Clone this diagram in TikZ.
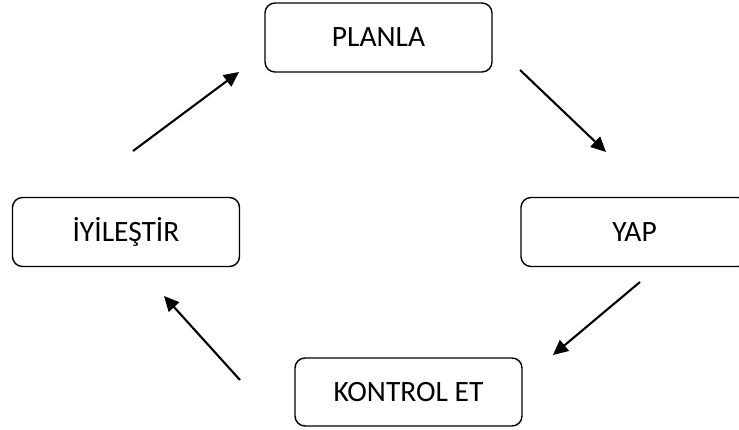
\documentclass[tikz,border=0pt]{standalone}
\usepackage{fontspec}
\setmainfont{Carlito}
\usetikzlibrary{arrows.meta}
\begin{document}
\begin{tikzpicture}[x=1pt,y=-1pt,
  box/.style={draw, rounded corners=10pt, line width=1.4pt, minimum width=227pt, minimum height=69pt, inner sep=0pt, font=\fontsize{29.5}{35}\selectfont},
  flow/.style={line width=2.1pt, -{Triangle[length=15pt,width=14pt]}}]
\clip (0,0) rectangle (739,430);
\useasboundingbox (0,0) rectangle (739,430);
\node[box] (plan) at (378.5,37.5) {PLANLA};
\node[box] (yap) at (634.5,232) {YAP};
\node[box] (iyi) at (126,232) {İYİLEŞTİR};
\node[box, minimum height=68pt] (kon) at (408.5,392) {KONTROL ET};
\coordinate (a1s) at (520,70);
\coordinate (a1e) at (606,152);
\coordinate (a2s) at (640,282);
\coordinate (a2e) at (553,355);
\coordinate (a3s) at (240,380);
\coordinate (a3e) at (164,296);
\coordinate (a4s) at (133,151);
\coordinate (a4e) at (239,72);
\draw[flow] (a1s) -- (a1e);
\draw[flow] (a2s) -- (a2e);
\draw[flow] (a3s) -- (a3e);
\draw[flow] (a4s) -- (a4e);
\end{tikzpicture}
\end{document}
